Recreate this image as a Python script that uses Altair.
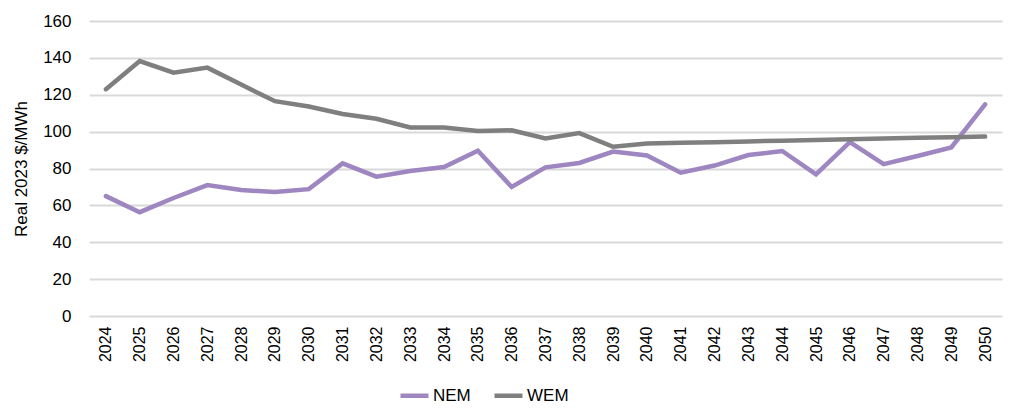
import altair as alt
import pandas as pd

years = [str(y) for y in range(2024, 2051)]
nem = [65, 56.3, 64, 71, 68.3, 67.2, 68.8, 82.8, 75.6, 78.6, 80.8, 89.6, 70, 80.6, 83, 89.2, 87.1,
       77.7, 81.6, 87.3, 89.5, 76.8, 94.3, 82.4, 86.8, 91.4, 114.8]
wem = [123, 138.3, 132, 134.7, 125.5, 116.5, 113.6, 109.6, 107, 102.3, 102.2, 100.3, 100.7, 96.3, 99.2,
       91.8, 93.6, 93.9, 94.3, 94.7, 95.1, 95.5, 95.9, 96.3, 96.7, 97.0, 97.3]
series = ["NEM", "WEM"]
colors = ["#9e86c1", "#7f7f7f"]

rows = []
for i, y in enumerate(years):
    rows.append({"year": y, "series": "NEM", "value": nem[i]})
    rows.append({"year": y, "series": "WEM", "value": wem[i]})
df = pd.DataFrame(rows)

FONT = "Liberation Sans"

chart = alt.Chart(df).mark_line(strokeWidth=4.5, strokeCap="round", strokeJoin="miter").encode(
    x=alt.X("year:N", sort=years, title=None,
            scale=alt.Scale(paddingInner=1, paddingOuter=0.5),
            axis=alt.Axis(labelAngle=-90, labelFontSize=16, labelColor="#000000", labelFont=FONT,
                          ticks=False, domain=False, grid=False, labelPadding=10)),
    y=alt.Y("value:Q", title="Real 2023 $/MWh",
            scale=alt.Scale(domain=[0, 160], nice=False),
            axis=alt.Axis(values=list(range(0, 161, 20)), labelFontSize=17, labelColor="#000000",
                          labelFont=FONT, ticks=False, domain=False, grid=True,
                          gridColor="#d9d9d9", gridWidth=2, labelPadding=18,
                          titleFont=FONT, titleFontSize=17, titleFontWeight="normal",
                          titleColor="#000000", titlePadding=12)),
    color=alt.Color("series:N", scale=alt.Scale(domain=series, range=colors),
                    legend=alt.Legend(title=None, orient="none", legendX=309, legendY=358,
                                      direction="horizontal", symbolType="stroke",
                                      symbolSize=784, symbolStrokeWidth=4.5,
                                      labelFontSize=17, labelFont=FONT,
                                      labelColor="#000000",
                                      labelOffset=2, columnPadding=14, padding=0)),
).properties(
    width=913, height=295,
    autosize=alt.AutoSizeParams(type="none"),
    padding={"left": 81, "top": 13, "right": 10, "bottom": 90},
).configure_view(stroke=None)

chart.save("out.html", embed_options={"renderer": "svg", "actions": False})
